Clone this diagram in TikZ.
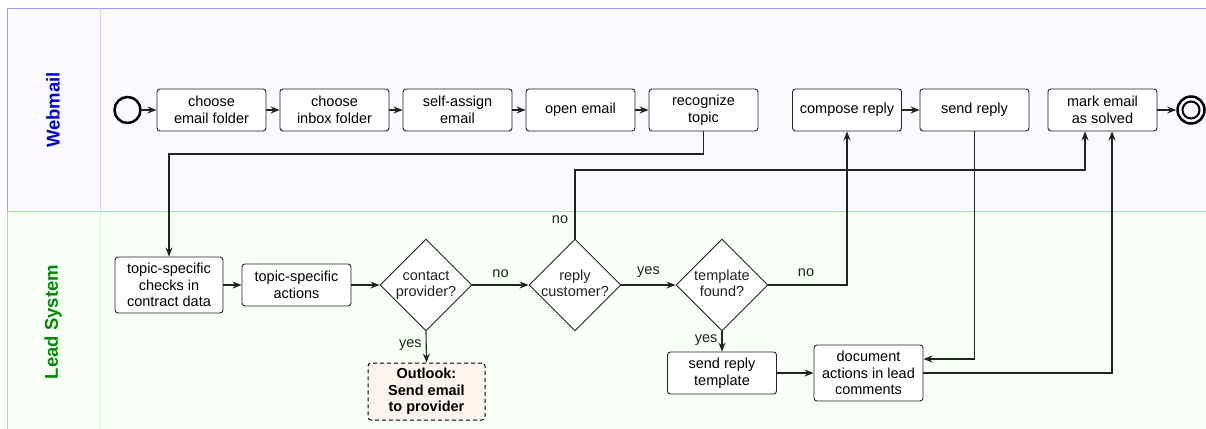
\documentclass[tikz,border=0pt]{standalone}
\usepackage{fontspec}
\setmainfont{Liberation Sans}
\usetikzlibrary{shapes.geometric,arrows.meta}
\definecolor{wmf}{HTML}{F9F9FF}
\definecolor{wmb}{HTML}{9A9AF2}
\definecolor{wmd}{HTML}{D0D0FA}
\definecolor{lsf}{HTML}{F7FFF7}
\definecolor{lsb}{HTML}{9AEE9A}
\definecolor{lsd}{HTML}{CFF8CF}
\definecolor{wmt}{HTML}{0000CC}
\definecolor{lst}{HTML}{008A00}
\definecolor{linec}{HTML}{222222}
\definecolor{outf}{HTML}{FDF4EE}
\begin{document}
\begin{tikzpicture}[x=1pt,y=-1pt,
  every node/.style={font=\fontsize{14.5}{16.5}\selectfont},
  task/.style={draw=linec, fill=white, rounded corners=3pt, line width=0.9pt,
    minimum width=109pt, minimum height=42pt, align=center, inner sep=1pt},
  dia/.style={diamond, draw=linec, fill=white, line width=0.9pt,
    minimum width=92pt, minimum height=92pt, inner sep=0pt},
  arr/.style={draw=linec, line width=1.1pt, -{Stealth[length=9pt,width=7pt,inset=3pt]}},
  lbl/.style={inner sep=0pt, text=linec},
  lane/.style={font=\bfseries\fontsize{18.5}{20}\selectfont, rotate=90}
]
\useasboundingbox (0,0) rectangle (1206,428);
\begin{scope}
  \clip (0,0) rectangle (1206,428);
  \draw[draw=wmb, fill=wmf, line width=1pt] (7.5,8.5) rectangle (1240,211.5);
  \draw[draw=wmd, line width=1pt] (100,8.5) -- (100,211.5);
  \draw[draw=lsb, fill=lsf, line width=1pt] (7.5,211.5) rectangle (1240,460);
  \draw[draw=lsd, line width=1pt] (100,212) -- (100,460);
  \draw[draw=lsb, line width=1pt] (7.5,211.5) -- (1240,211.5);
\end{scope}

\node[lane, text=wmt] (wl) at (53,110) {Webmail};
\node[lane, text=lst] (ll) at (53,322) {Lead System};

% Webmail row
\node[circle, draw=black, line width=2.5pt, minimum size=26pt, inner sep=0pt] (st) at (127.5,110) {};
\node[task] (ef) at (211.5,110) {choose\\email folder};
\node[task] (if) at (334.5,110) {choose\\inbox folder};
\node[task] (sa) at (457.5,110) {self-assign\\email};
\node[task] (oe) at (580.5,110) {open email};
\node[task] (rt) at (703.5,110) {recognize\\topic};
\node[task] (cr) at (847,110) {compose reply};
\node[task] (sr) at (974.5,110) {send reply};
\node[task] (me) at (1102.5,110) {mark email\\as solved};
\node[circle, draw=black, line width=2.5pt, minimum size=27pt, inner sep=0pt] (en) at (1191,110) {};
\node[circle, draw=black, line width=2pt, minimum size=17pt, inner sep=0pt] (en2) at (en) {};

% Lead system
\node[task, minimum width=108pt, minimum height=56pt] (tc) at (169,285) {topic-specific\\checks in\\contract data};
\node[task] (ta) at (296.5,285) {topic-specific\\actions};
\node[dia] (cp) at (426,285) {};
\node[lbl] (cpt) at (cp) {\begin{tabular}{@{}c@{}}contact\\provider?\end{tabular}};
\node[dia] (rc) at (575,285) {};
\node[lbl] (rct) at (rc) {\begin{tabular}{@{}c@{}}reply\\customer?\end{tabular}};
\node[dia] (tf) at (722,285) {};
\node[lbl] (tft) at (tf) {\begin{tabular}{@{}c@{}}template\\found?\end{tabular}};
\node[task, draw=black, line width=1pt, dash pattern=on 4pt off 3pt, fill=outf, minimum width=117pt, minimum height=57pt, font=\bfseries\fontsize{14.5}{16.5}\selectfont] (ol) at (426.5,391.5) {Outlook:\\Send email\\to provider};
\node[task] (srt) at (722,373) {send reply\\template};
\node[task, minimum height=56pt] (da) at (868.5,373) {document\\actions in lead\\comments};

% connectors row 1
\draw[arr] (st) -- (ef);
\draw[arr] (ef) -- (if);
\draw[arr] (if) -- (sa);
\draw[arr] (sa) -- (oe);
\draw[arr] (oe) -- (rt);
\draw[arr] (cr) -- (sr);
\draw[arr] (me) -- (en);

% cross lanes
\draw[arr] (rt.south) -- (rt.south |- 0,154) -| (tc.north);
\draw[arr] (tc) -- (ta);
\draw[arr] (ta) -- (cp);
\draw[arr] (cp) -- node[lbl, above=7pt] (l1) {no} (rc);
\draw[arr] (rc) -- node[lbl, above=7pt] (l2) {yes} (tf);
\draw[arr] (cp.south) -- node[lbl, pos=0.45, left=4pt] (l3) {yes} (ol.north);
\draw[arr] (tf.south) -- node[lbl, pos=0.45, left=4pt] (l4) {yes} (srt.north);
\draw[arr] (rc.north) -- (rc.north |- 0,170) -| ([xshift=-17.5pt]me.south);
\node[lbl] (l5) at (560,220) {no};
\draw[arr] (tf.east) -| (cr.south);
\node[lbl] (l6) at (806,273) {no};
\draw[arr] (srt) -- (da);
\draw[arr] (sr.south) |- ([yshift=14pt]da.east);
\draw[arr] (da.east) -| ([xshift=9.5pt]me.south);
\end{tikzpicture}
\end{document}
